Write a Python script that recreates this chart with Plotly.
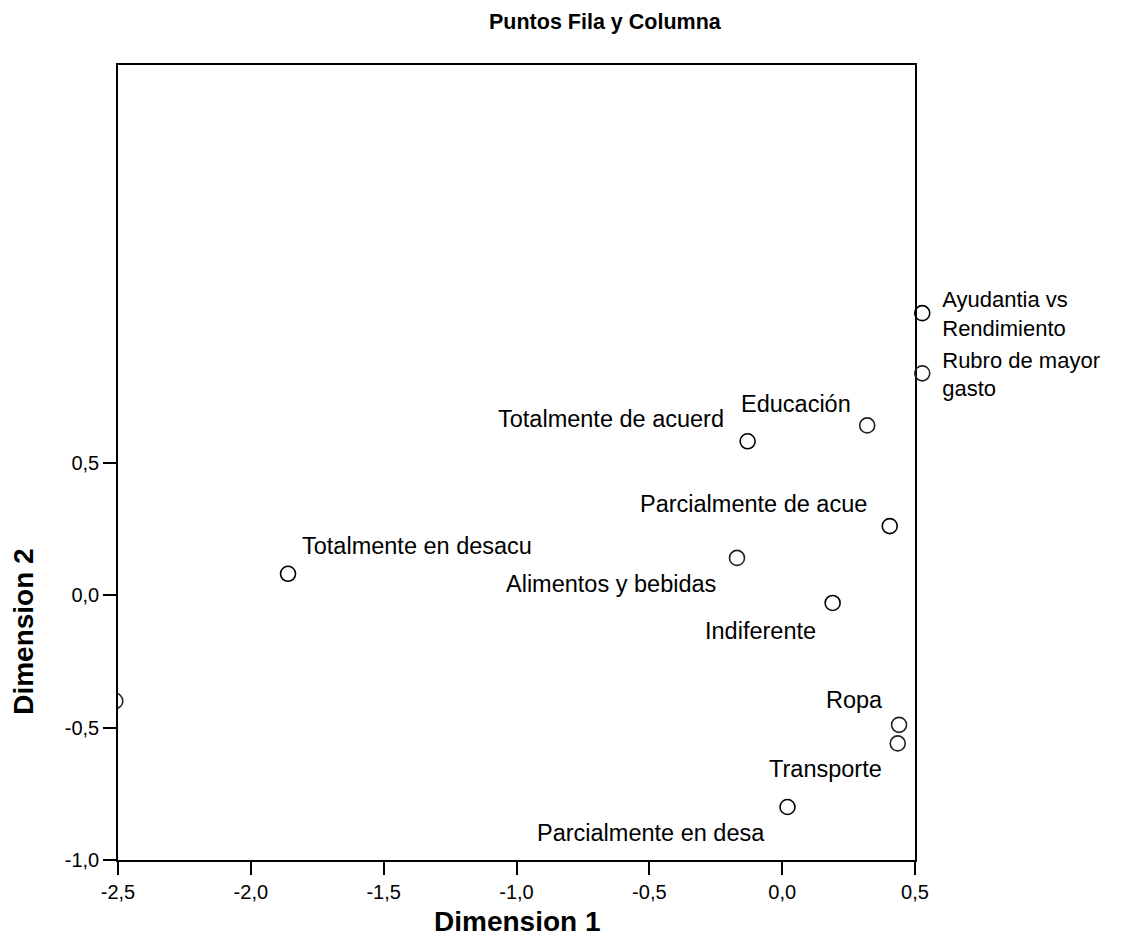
import plotly.graph_objects as go

# Row points: Ayudantia vs Rendimiento
row_labels = ["Totalmente de acuerd", "Parcialmente de acue", "Indiferente",
              "Parcialmente en desa", "Totalmente en desacu"]
row_dim1 = [-0.13, 0.405, 0.19, 0.02, -1.86]
row_dim2 = [0.58, 0.26, -0.03, -0.80, 0.08]

# Column points: Rubro de mayor gasto
col_labels = ["Educación", "Alimentos y bebidas", "Ropa", "Transporte", "Diversión"]
col_dim1 = [0.32, -0.17, 0.44, 0.435, -2.51]
col_dim2 = [0.64, 0.14, -0.49, -0.56, -0.40]

x_ticks = [-2.5, -2.0, -1.5, -1.0, -0.5, 0.0, 0.5]
x_ticktext = ["-2,5", "-2,0", "-1,5", "-1,0", "-0,5", "0,0", "0,5"]
y_ticks = [-1.0, -0.5, 0.0, 0.5]
y_ticktext = ["-1,0", "-0,5", "0,0", "0,5"]

# label placement (anchor, xshift, yshift) per point
row_lab_style = [("right", -22, 22), ("right", -21, 22), ("right", -15, -28),
                 ("right", -20, -26), ("left", 12, 28)]
col_lab_style = [("right", -14, 21), ("right", -19, -26), ("right", -14, 25),
                 ("right", -14, -26), ("left", 12, 25)]

FONT = "Liberation Sans, Arial, sans-serif"

fig = go.Figure()
fig.add_trace(go.Scatter(
    x=row_dim1, y=row_dim2, mode="markers", name="Ayudantia vs<br>Rendimiento",
    marker=dict(symbol="circle-open", size=15, color="black", line=dict(width=1.6)),
))
fig.add_trace(go.Scatter(
    x=col_dim1, y=col_dim2, mode="markers", name="Rubro de mayor<br>gasto",
    marker=dict(symbol="circle-open", size=15, color="#222222", line=dict(width=1.6)),
))

for labs, xs, ys, styles in [(row_labels, row_dim1, row_dim2, row_lab_style),
                             (col_labels, col_dim1, col_dim2, col_lab_style)]:
    for lab, x, y, (anc, xs_, ys_) in zip(labs, xs, ys, styles):
        fig.add_annotation(x=x, y=y, text=lab, showarrow=False, xanchor=anc,
                           yanchor="middle", xshift=xs_, yshift=ys_,
                           font=dict(size=23.5, color="black", family=FONT))

fig.add_annotation(x=0.612, y=1.0, xref="paper", yref="paper", yshift=43,
                   text="<b>Puntos Fila y Columna</b>", showarrow=False,
                   xanchor="center", yanchor="middle",
                   font=dict(size=21.5, color="black", family=FONT))

# axis titles
fig.add_annotation(x=0.5, y=0.0, xref="paper", yref="paper", yshift=-61,
                   text="<b>Dimension 1</b>", showarrow=False,
                   xanchor="center", yanchor="middle",
                   font=dict(size=28, color="black", family=FONT))
fig.add_annotation(x=0.0, y=0.287, xref="paper", yref="paper", xshift=-94,
                   text="<b>Dimension 2</b>", showarrow=False, textangle=-90,
                   xanchor="center", yanchor="middle",
                   font=dict(size=28, color="black", family=FONT))

axis_common = dict(showgrid=False, zeroline=False, showline=True, mirror=True,
                   linecolor="black", linewidth=1.5, ticks="outside", ticklen=13,
                   tickwidth=1.5, tickcolor="black", automargin=False,
                   tickfont=dict(size=20, color="black", family=FONT))

fig.update_xaxes(range=[-2.5, 0.5], tickvals=x_ticks, ticktext=x_ticktext,
                 **axis_common)
fig.update_yaxes(range=[-1.0, 2.0], tickvals=y_ticks, ticktext=y_ticktext,
                 **axis_common)

fig.update_layout(
    width=1118, height=930,
    margin=dict(l=110, r=211, t=57, b=78),
    plot_bgcolor="white", paper_bgcolor="white",
    font=dict(family=FONT, color="black"),
    legend=dict(x=0.984, y=0.732, xanchor="left", yanchor="top",
                bgcolor="rgba(0,0,0,0)", font=dict(size=22, color="black", family=FONT),
                tracegroupgap=1),
    showlegend=True,
)

fig.write_html("out.html")
